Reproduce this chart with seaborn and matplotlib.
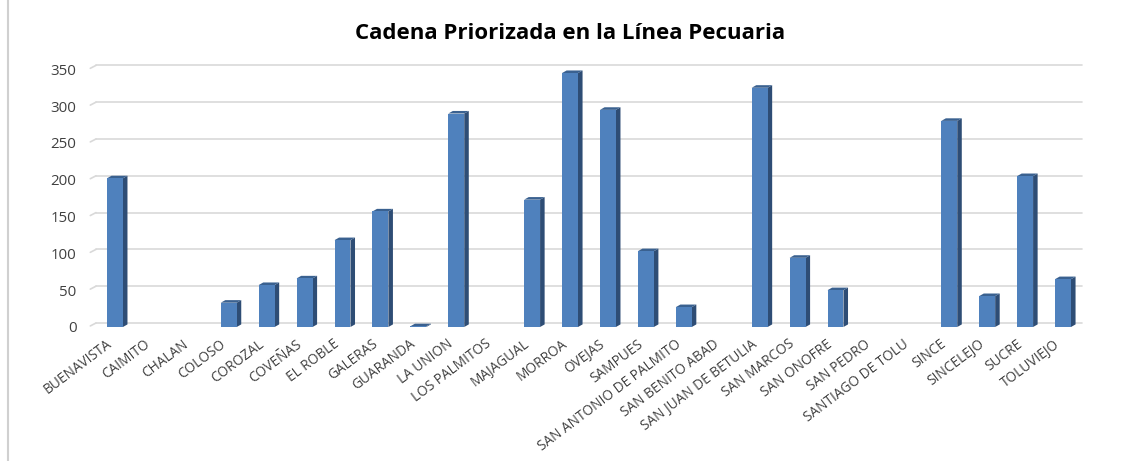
import matplotlib
matplotlib.use("Agg")
import matplotlib.pyplot as plt
import seaborn as sns
import pandas as pd
from matplotlib.patches import Polygon, Rectangle
from matplotlib.transforms import offset_copy, ScaledTranslation

municipios = ["BUENAVISTA", "CAIMITO", "CHALAN", "COLOSO", "COROZAL", "COVEÑAS",
              "EL ROBLE", "GALERAS", "GUARANDA", "LA UNION", "LOS PALMITOS",
              "MAJAGUAL", "MORROA", "OVEJAS", "SAMPUES", "SAN ANTONIO DE PALMITO",
              "SAN BENITO ABAD", "SAN JUAN DE BETULIA", "SAN MARCOS", "SAN ONOFRE",
              "SAN PEDRO", "SANTIAGO DE TOLU", "SINCE", "SINCELEJO", "SUCRE", "TOLUVIEJO"]
valores = [202, 0, 0, 33, 57, 66, 118, 157, 1, 290, 0, 173, 345, 295, 103, 27,
           0, 325, 94, 50, 0, 0, 280, 42, 205, 65]
yticks = [0, 50, 100, 150, 200, 250, 300, 350]
titulo = "Cadena Priorizada en la Línea Pecuaria"

sns.set_theme(style="white")
plt.rcParams['font.family'] = ['Open Sans', 'DejaVu Sans']

df = pd.DataFrame({"municipio": municipios, "valor": valores})

W, H = 1125, 461
fig = plt.figure(figsize=(W / 100, H / 100), dpi=100)
ax = fig.add_axes([96 / W, 1 - 327 / H, (1082 - 96) / W, (327 - 62) / H])

front = "#4F81BD"
side = "#2E4D75"
top = "#3A6190"

sns.barplot(data=df, x="municipio", y="valor", color=front, saturation=1,
            width=0.42, ax=ax, zorder=3, linewidth=0, edgecolor="none")

# 3D-like side and top faces derived from each bar
dx = 0.12
dy = 3.5
for p in ax.patches[:]:
    x0 = p.get_x()
    w = p.get_width()
    h = p.get_height()
    x1 = x0 + w
    if h <= 0:
        continue
    ax.add_patch(Polygon([[x1, 0], [x1 + dx, dy], [x1 + dx, h + dy], [x1, h]],
                         closed=True, facecolor=side, edgecolor="none", zorder=2.9))
    ax.add_patch(Polygon([[x0, h], [x0 + dx, h + dy], [x1 + dx, h + dy], [x1, h]],
                         closed=True, facecolor=top, edgecolor="none", zorder=2.9))

ax.set_ylim(0, 360)
ax.set_xlim(-0.5, len(municipios) - 0.5)
ax.set_yticks(yticks)
ax.set_yticklabels([str(v) for v in yticks], fontsize=10.8, color="#404040")
ax.tick_params(axis="y", length=0, pad=14)
ax.tick_params(axis="x", length=0, pad=7)
ax.set_xticks(range(len(municipios)))
ax.set_xticklabels(municipios, rotation=37, ha="right", rotation_mode="anchor",
                   fontsize=9.8, color="#404040")
shift = ScaledTranslation(-9 / 100, 0, fig.dpi_scale_trans)
for lab in ax.get_xticklabels():
    lab.set_transform(lab.get_transform() + shift)
ax.set_xlabel("")
ax.set_ylabel("")

# gridlines on the back wall (slightly raised)
grid_tr = offset_copy(ax.transData, fig=fig, x=0, y=4, units="dots")
for v in yticks:
    ax.plot([-0.5, len(municipios) - 0.5], [v, v], color="#D9D9D9", lw=1.2,
            zorder=1, transform=grid_tr, clip_on=False)
    ax.plot([-0.65, -0.5], [v - 4, v], color="#D9D9D9", lw=1.2, zorder=1,
            transform=grid_tr, clip_on=False)

for s in ax.spines.values():
    s.set_visible(False)

fig.text(570 / W, 1 - 33 / H, titulo, ha="center", va="center",
         fontsize=16, fontweight="bold", color="#000000")

# chart border
fig.patches.append(Rectangle((8 / W, -0.01), 1.2, 1.2, transform=fig.transFigure,
                             fill=False, edgecolor="#D0D0D0", lw=1.5))

fig.savefig("out.png", dpi=100)
